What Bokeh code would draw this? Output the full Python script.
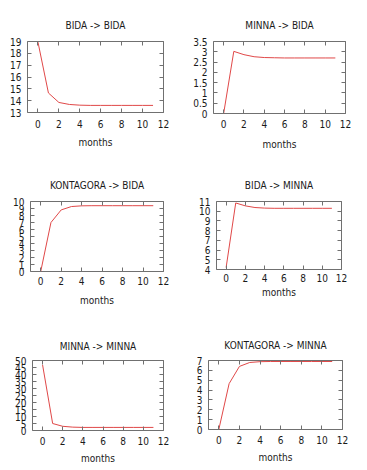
from bokeh.plotting import figure
from bokeh.models import Range1d, FixedTicker, LinearAxis, NumeralTickFormatter
from bokeh.layouts import row, column
from bokeh.embed import file_html
from bokeh.resources import INLINE

# ---- data ----
months = list(range(12))
x_ticks = [0, 2, 4, 6, 8, 10, 12]

bida_bida = [18.95, 14.65, 13.85, 13.68, 13.62, 13.6, 13.6, 13.6, 13.6, 13.6, 13.6, 13.6]
minna_bida = [0.0, 3.02, 2.86, 2.76, 2.72, 2.71, 2.7, 2.7, 2.7, 2.7, 2.7, 2.7]
kontagora_bida = [0.0, 7.0, 8.8, 9.28, 9.38, 9.4, 9.4, 9.4, 9.4, 9.4, 9.4, 9.4]
bida_minna = [4.2, 10.85, 10.55, 10.38, 10.32, 10.3, 10.3, 10.3, 10.3, 10.3, 10.3, 10.3]
minna_minna = [46.9, 5.0, 3.0, 2.4, 2.2, 2.2, 2.2, 2.2, 2.2, 2.2, 2.2, 2.2]
kontagora_minna = [0.0, 4.65, 6.4, 6.8, 6.88, 6.9, 6.9, 6.9, 6.9, 6.9, 6.9, 6.9]

titles = ["BIDA -> BIDA", "MINNA -> BIDA", "KONTAGORA -> BIDA",
          "BIDA -> MINNA", "MINNA -> MINNA", "KONTAGORA -> MINNA"]
y_ticks_bb = [13, 14, 15, 16, 17, 18, 19]
y_ticks_mb = [0, 0.5, 1, 1.5, 2, 2.5, 3, 3.5]
y_ticks_kb = [0, 1, 2, 3, 4, 5, 6, 7, 8, 9, 10]
y_ticks_bm = [4, 5, 6, 7, 8, 9, 10, 11]
y_ticks_mm = [0, 5, 10, 15, 20, 25, 30, 35, 40, 45, 50]
y_ticks_km = [0, 1, 2, 3, 4, 5, 6, 7]
x_label = "months"

FONT = "'DejaVu Sans Condensed', 'Liberation Sans'"
FS = "10px"
BORDER = "#707070"
LINE = "#e04848"
TXT = "#1a1a1a"


def make(title, ys, yticks, fw, fh, ml, mr, mt, mb, tick_sd, lab_sd, title_sd):
    p = figure(frame_width=fw, frame_height=fh,
               min_border_left=ml, min_border_right=mr,
               min_border_top=mt, min_border_bottom=mb,
               x_range=Range1d(-1, 12), y_range=Range1d(yticks[0], yticks[-1]),
               output_backend="svg", toolbar_location=None,
               x_axis_label=x_label)
    p.grid.visible = False
    p.outline_line_color = BORDER
    p.outline_line_width = 1
    p.background_fill_color = "white"
    p.border_fill_color = "white"

    p.title.text = title
    p.title.align = "center"
    p.title.text_font = FONT
    p.title.text_font_size = FS
    p.title.text_font_style = "normal"
    p.title.text_color = TXT
    p.title.standoff = title_sd

    p.line(months, ys, line_color=LINE, line_width=1)

    fmt = NumeralTickFormatter(format="0.[0]")
    for ax, tk in ((p.xaxis[0], x_ticks), (p.yaxis[0], yticks)):
        ax.ticker = FixedTicker(ticks=tk)
        ax.formatter = fmt
        ax.axis_line_color = None
        ax.major_tick_in = 4
        ax.major_tick_out = 0
        ax.major_tick_line_color = BORDER
        ax.minor_tick_in = 0
        ax.minor_tick_out = 0
        ax.major_label_text_font = FONT
        ax.major_label_text_font_size = FS
        ax.major_label_text_color = TXT
    p.xaxis[0].major_label_standoff = tick_sd
    p.yaxis[0].major_label_standoff = 6
    p.xaxis[0].axis_label_standoff = lab_sd
    p.xaxis[0].axis_label_text_font = FONT
    p.xaxis[0].axis_label_text_font_size = FS
    p.xaxis[0].axis_label_text_font_style = "normal"
    p.xaxis[0].axis_label_text_color = TXT

    # mirrored tick marks (no labels) on top and right
    for loc, tk in (("above", x_ticks), ("right", yticks)):
        ax = LinearAxis(ticker=FixedTicker(ticks=tk))
        ax.axis_line_color = None
        ax.major_tick_in = 4
        ax.major_tick_out = 0
        ax.major_tick_line_color = BORDER
        ax.minor_tick_in = 0
        ax.minor_tick_out = 0
        ax.major_label_text_color = None
        ax.major_label_text_font_size = "0px"
        ax.major_label_standoff = 0
        p.add_layout(ax, loc)
    return p


# frame sizes / borders chosen so each box sits where the reference has it
p1 = make(titles[0], bida_bida, y_ticks_bb, 136, 71, 27, 22, 39, 50, 7, 6, 21)
p2 = make(titles[1], minna_bida, y_ticks_mb, 132, 72, 28, 22, 41, 47, 6, 8, 21)
p3 = make(titles[2], kontagora_bida, y_ticks_kb, 133, 70, 30, 22, 41, 49, 5, 7, 21)
p4 = make(titles[3], bida_minna, y_ticks_bm, 125, 68, 31, 26, 37, 55, 4, 2, 21)
p5 = make(titles[4], minna_minna, y_ticks_mm, 131, 70, 32, 22, 40, 40, 6, 5, 17)
p6 = make(titles[5], kontagora_minna, y_ticks_km, 134, 69, 23, 25, 39, 42, 6, 5, 19)

layout = column(row(p1, p2), row(p3, p4), row(p5, p6))
open("out.html", "w").write(file_html(layout, INLINE))
